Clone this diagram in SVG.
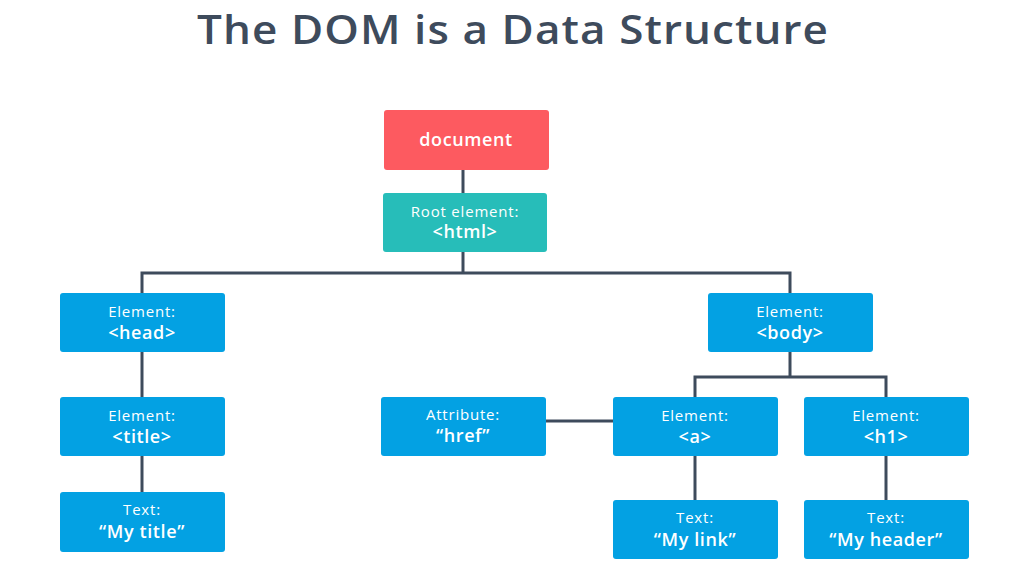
<svg xmlns="http://www.w3.org/2000/svg" width="1030" height="580" viewBox="0 0 1030 580">
<style>
.bg{fill:#ffffff}
.title{font-family:"Open Sans","Noto Sans",sans-serif;font-size:40px;font-weight:600;fill:#3e4b5c;letter-spacing:1px}
.box{stroke:none}
.red{fill:#fd5a60}
.teal{fill:#27bdb9}
.blue{fill:#03a1e3}
.lbl{font-family:"Open Sans","Noto Sans",sans-serif;font-size:15px;font-weight:500;fill:#ffffff;text-anchor:middle;letter-spacing:0.8px}
.val{font-family:"Open Sans","Noto Sans",sans-serif;font-size:18px;font-weight:600;fill:#ffffff;text-anchor:middle;letter-spacing:0.6px}
.conn{fill:none;stroke:#3e4b5c;stroke-width:3}
</style>
<rect class="bg" x="0" y="0" width="1030" height="580"/>
<text class="title" x="513" y="44" text-anchor="middle" textLength="632" lengthAdjust="spacingAndGlyphs">The DOM is a Data Structure</text>
<g id="connectors">
<path class="conn" d="M463 170V193"/>
<path class="conn" d="M463 252V273"/>
<path class="conn" d="M142 293V273H790V293"/>
<path class="conn" d="M142 352V397"/>
<path class="conn" d="M142 456V492"/>
<path class="conn" d="M790 352V377"/>
<path class="conn" d="M695 397V377H886V397"/>
<path class="conn" d="M546 421H613"/>
<path class="conn" d="M695 456V500"/>
<path class="conn" d="M886 456V500"/>
</g>
<g id="document">
<rect class="box red" x="384" y="110" width="165" height="60" rx="3"/>
<text class="val" x="466" y="146">document</text>
</g>
<g id="root">
<rect class="box teal" x="383" y="193" width="164" height="59" rx="3"/>
<text class="lbl" x="465" y="217">Root element:</text>
<text class="val" x="465" y="238">&lt;html&gt;</text>
</g>
<g id="head">
<rect class="box blue" x="60" y="293" width="165" height="59" rx="3"/>
<text class="lbl" x="142" y="317">Element:</text>
<text class="val" x="142" y="339">&lt;head&gt;</text>
</g>
<g id="title">
<rect class="box blue" x="60" y="397" width="165" height="59" rx="3"/>
<text class="lbl" x="142" y="421">Element:</text>
<text class="val" x="142" y="443">&lt;title&gt;</text>
</g>
<g id="text-title">
<rect class="box blue" x="60" y="492" width="165" height="60" rx="3"/>
<text class="lbl" x="142" y="515">Text:</text>
<text class="val" x="142" y="538">“My title”</text>
</g>
<g id="body">
<rect class="box blue" x="708" y="293" width="165" height="59" rx="3"/>
<text class="lbl" x="790" y="317">Element:</text>
<text class="val" x="790" y="339">&lt;body&gt;</text>
</g>
<g id="attribute">
<rect class="box blue" x="381" y="397" width="165" height="59" rx="3"/>
<text class="lbl" x="463" y="420">Attribute:</text>
<text class="val" x="463" y="442">“href”</text>
</g>
<g id="a">
<rect class="box blue" x="613" y="397" width="165" height="59" rx="3"/>
<text class="lbl" x="695" y="421">Element:</text>
<text class="val" x="695" y="443">&lt;a&gt;</text>
</g>
<g id="h1">
<rect class="box blue" x="804" y="397" width="165" height="59" rx="3"/>
<text class="lbl" x="886" y="421">Element:</text>
<text class="val" x="886" y="443">&lt;h1&gt;</text>
</g>
<g id="text-link">
<rect class="box blue" x="613" y="500" width="165" height="59" rx="3"/>
<text class="lbl" x="695" y="523">Text:</text>
<text class="val" x="695" y="546">“My link”</text>
</g>
<g id="text-header">
<rect class="box blue" x="804" y="500" width="165" height="59" rx="3"/>
<text class="lbl" x="886" y="523">Text:</text>
<text class="val" x="886" y="546">“My header”</text>
</g>
</svg>
